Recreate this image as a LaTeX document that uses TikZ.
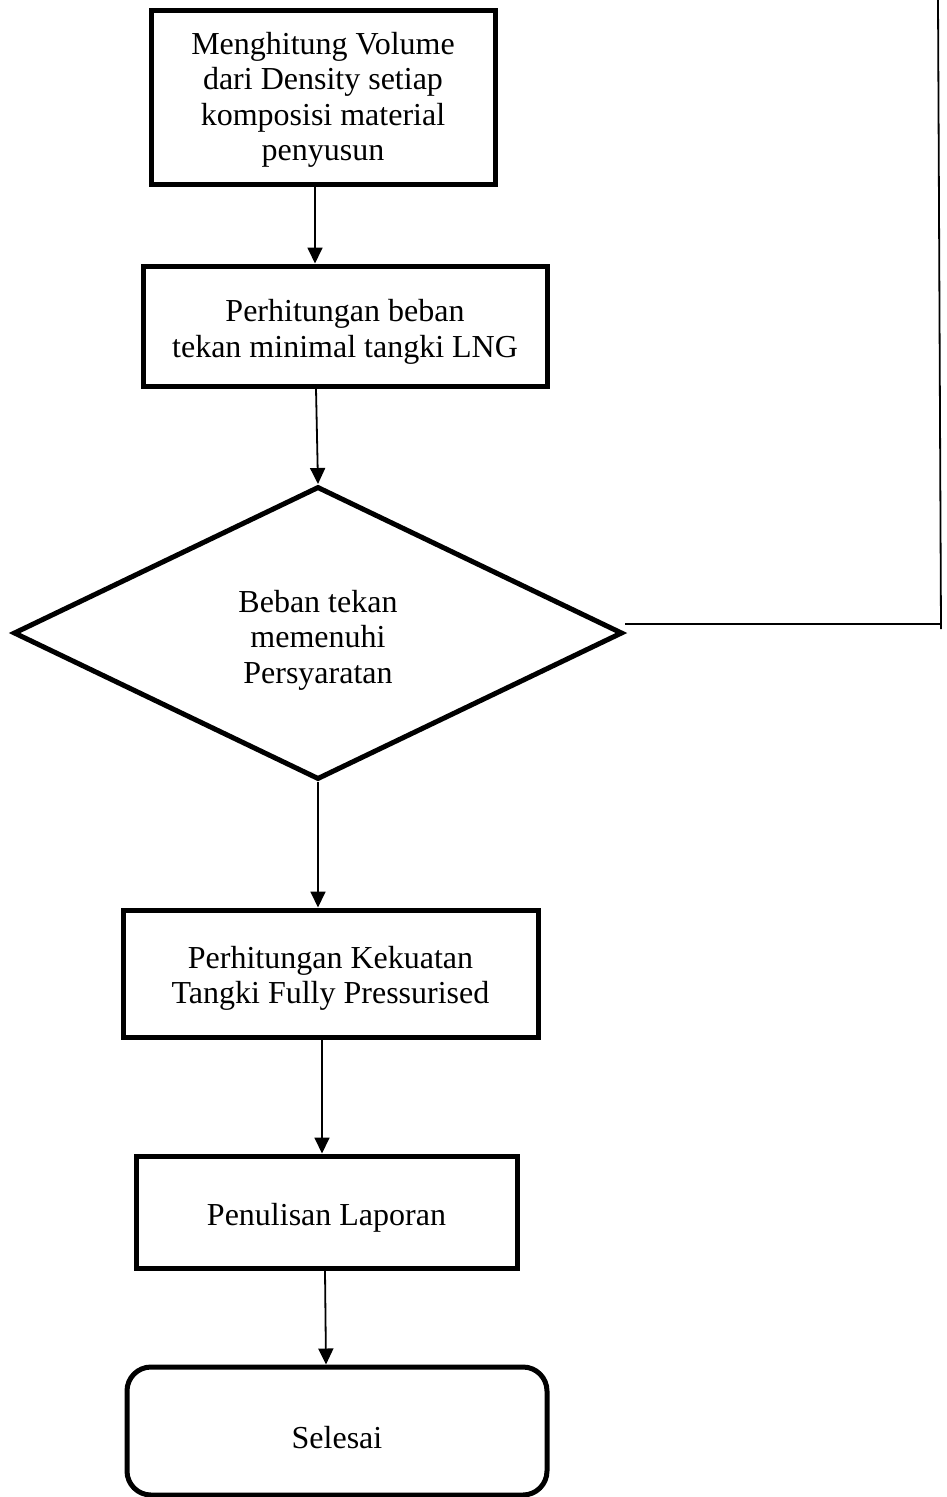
\documentclass[tikz,border=0pt]{standalone}
\usepackage{fontspec}
\setmainfont{Liberation Serif}
\usetikzlibrary{shapes.geometric,arrows.meta,calc}
\begin{document}
\begin{tikzpicture}[x=1pt,y=-1pt,
  every node/.style={inner sep=0pt},
  txt/.style={font=\fontsize{32}{35.5}\selectfont, align=center},
  boxnode/.style={draw, line width=5pt, rectangle},
  endnode/.style={draw, line width=5pt, rectangle, rounded corners=24pt},
  decnode/.style={draw, line width=5pt, diamond},
  arr/.style={line width=1.8pt, -{Triangle[length=16pt,width=15pt]}},
  plain/.style={line width=1.8pt}]
\useasboundingbox (0,0) rectangle (947,1497);
\node[boxnode, minimum width=344pt, minimum height=174pt] (b1) at (323,97) {};
\node[txt] (b1t) at ([yshift=-3pt]b1.center)
  {Menghitung Volume\\dari Density setiap\\komposisi material\\penyusun};
\node[boxnode, minimum width=404pt, minimum height=120pt] (b2) at (345,326) {};
\node[txt] (b2t) at (345,332) {Perhitungan beban\\tekan minimal tangki LNG};
\node[decnode, minimum width=609pt, minimum height=293pt] (d) at (318,633) {};
\node[txt] (dt) at (318,640) {Beban tekan\\memenuhi\\Persyaratan};
\node[boxnode, minimum width=415pt, minimum height=127pt] (b3) at (330.5,973.5) {};
\node[txt] (b3t) at (330.5,978.5) {Perhitungan Kekuatan\\Tangki Fully Pressurised};
\node[boxnode, minimum width=381pt, minimum height=112pt] (b4) at (326.5,1212) {};
\node[txt] (b4t) at (326.5,1218) {Penulisan Laporan};
\node[endnode, minimum width=420pt, minimum height=128pt] (e) at (337,1431) {};
\node[txt] (et) at (337,1438) {Selesai};
\coordinate (c1) at (941,624);
\coordinate (c2) at (938,0);
\coordinate (c3) at (941,629);
\draw[arr] ([xshift=-8pt]b1.south) -- ([xshift=-30pt]b2.north);
\draw[arr] ([xshift=-29pt]b2.south) -- (d.north);
\draw[arr] (d.south) -- ([xshift=-12.5pt]b3.north);
\draw[arr] ([xshift=-8.5pt]b3.south) -- ([xshift=-4.5pt]b4.north);
\draw[arr] ([xshift=-1.5pt]b4.south) -- ([xshift=-11pt]e.north);
\draw[plain] ([yshift=9pt]d.east) -- (c1);
\draw[plain] (c3) -- (c2);
\end{tikzpicture}
\end{document}
